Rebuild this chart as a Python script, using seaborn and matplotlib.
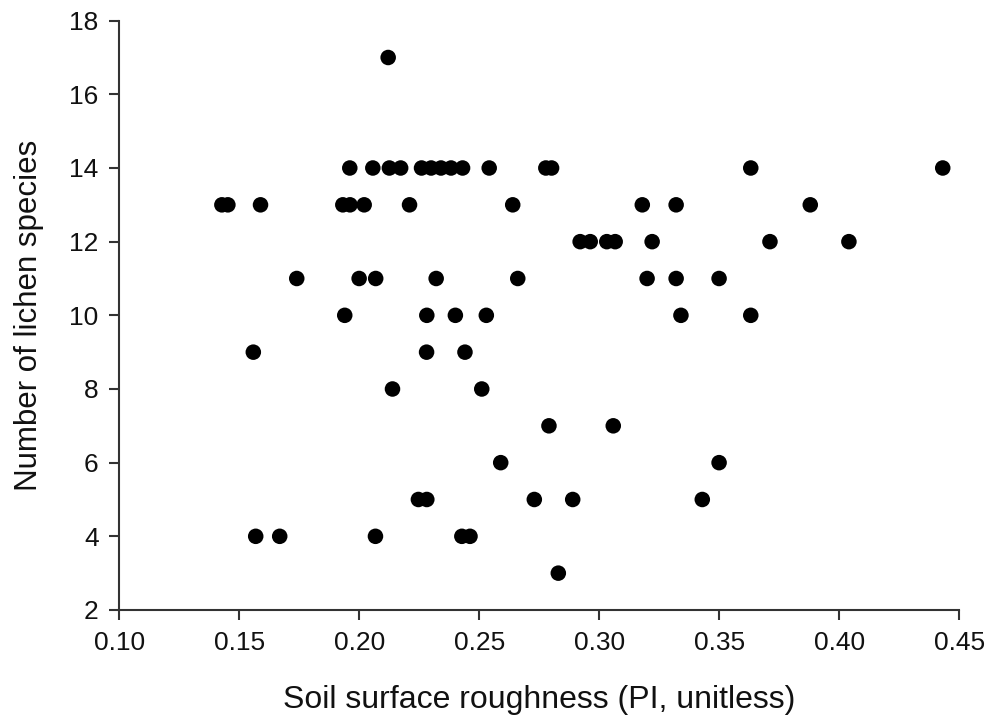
import matplotlib
matplotlib.use("Agg")
import matplotlib.pyplot as plt
import seaborn as sns
import pandas as pd

# roughness (PI) and lichen species counts
roughness = [
    0.212,
    0.196, 0.2056, 0.2125, 0.2172, 0.2259, 0.2299, 0.2340, 0.2382, 0.2430, 0.2541, 0.2777, 0.2801, 0.3631, 0.4431,
    0.1427, 0.1452, 0.1588, 0.1931, 0.1961, 0.2020, 0.2209, 0.2639, 0.3179, 0.3320, 0.3879,
    0.2920, 0.2962, 0.3031, 0.3066, 0.3220, 0.3711, 0.4040,
    0.1739, 0.1999, 0.2068, 0.2320, 0.2660, 0.3199, 0.3320, 0.3499,
    0.1939, 0.2281, 0.2400, 0.2529, 0.3340, 0.3631,
    0.1558, 0.2280, 0.2440,
    0.2138, 0.2510,
    0.2790, 0.3058,
    0.2589, 0.3499,
    0.2246, 0.2281, 0.2729, 0.2889, 0.3429,
    0.1568, 0.1668, 0.2067, 0.2427, 0.2461,
    0.2829,
]
species = (
    [17]
    + [14] * 14
    + [13] * 11
    + [12] * 7
    + [11] * 8
    + [10] * 6
    + [9] * 3
    + [8] * 2
    + [7] * 2
    + [6] * 2
    + [5] * 5
    + [4] * 5
    + [3]
)

df = pd.DataFrame({"roughness": roughness, "species": species})

sns.set_style("ticks")
plt.rcParams["font.family"] = ["Liberation Sans", "DejaVu Sans"]
plt.rcParams["text.color"] = "#111111"
plt.rcParams["axes.labelcolor"] = "#111111"
plt.rcParams["xtick.labelcolor"] = "#111111"
plt.rcParams["ytick.labelcolor"] = "#111111"

fig = plt.figure(figsize=(9.91, 7.2), dpi=100)
ax = fig.add_axes([0.1205, 0.1528, 0.8475, 0.8185])

sns.scatterplot(data=df, x="roughness", y="species", color="black",
                s=125, edgecolor="none", ax=ax, legend=False)

ax.set_xlim(0.10, 0.45)
ax.set_ylim(2, 18)
ax.set_xticks([0.10, 0.15, 0.20, 0.25, 0.30, 0.35, 0.40, 0.45])
ax.set_xticklabels(["0.10", "0.15", "0.20", "0.25", "0.30", "0.35", "0.40", "0.45"])
ax.set_yticks(range(2, 19, 2))

for side in ["top", "right"]:
    ax.spines[side].set_visible(False)
for side in ["left", "bottom"]:
    ax.spines[side].set_color("#333333")
    ax.spines[side].set_linewidth(1.5)
ax.tick_params(axis="both", direction="out", length=7, width=1.5,
               color="#333333", labelsize=19, pad=8)

ax.set_xlabel("Soil surface roughness (PI, unitless)", fontsize=23, labelpad=22)
ax.set_ylabel("Number of lichen species", fontsize=22.5, labelpad=18)

fig.savefig("out.png", dpi=100)
